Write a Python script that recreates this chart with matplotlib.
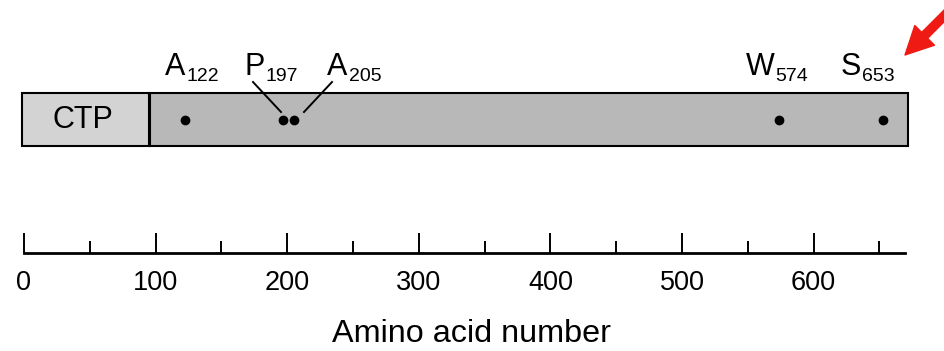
import matplotlib
matplotlib.use('Agg')
import matplotlib.pyplot as plt
import numpy as np

plt.rcParams['font.family'] = ['Liberation Sans', 'DejaVu Sans']

# protein domains (amino acid numbers)
protein_length = 672
ctp_end = 96
site_names = ['A', 'P', 'A', 'W', 'S']
site_positions = [122, 197, 205, 574, 653]
major_ticks = [0, 100, 200, 300, 400, 500, 600]
minor_ticks = [50, 150, 250, 350, 450, 550, 650]

# layout: pixel -> data mapping (0 aa at 24 px, 1.316 px per aa)
PX0, SCALE = 24, 1.316
def px(x):
    return (x - PX0) / SCALE

fig = plt.figure(figsize=(9.44, 3.51), dpi=100)
ax = fig.add_axes([0, 0, 1, 1])
ax.set_xlim(px(0), px(944))
ax.set_ylim(351, 0)
ax.axis('off')

# bar: CTP segment + mature protein
ax.barh(119.5, ctp_end, left=px(22.5), height=52.5, color='#d3d3d3', edgecolor='black',
        linewidth=1.5)
ax.barh(119.5, protein_length - ctp_end, left=ctp_end, height=52.5, color='#b8b8b8',
        edgecolor='black', linewidth=1.5)
ax.text(px(83), 120, 'CTP', ha='center', va='center', fontsize=22)

# mutation sites
ax.plot(site_positions, [120] * len(site_positions), 'o', color='black', markersize=6)

# letter + subscript number, left edge offset (px) from the dot
label_dx = [-20, -39, 33, -34, -43]
for name, pos, dx in zip(site_names, site_positions, label_dx):
    t = ax.text(pos + dx / SCALE, 75, name, ha='left', va='baseline', fontsize=22)
    ax.annotate(str(pos), xy=(1, 0), xycoords=t, xytext=(1, 0.5), textcoords='offset points',
                ha='left', va='baseline', fontsize=14)

# leader lines for the crowded pair
ax.plot([px(253), px(281)], [82, 112], color='black', lw=1.4)
ax.plot([px(332), px(304)], [82, 112], color='black', lw=1.4)

# red arrow
ax.annotate('', xy=(px(905), 55), xytext=(px(952), 8), annotation_clip=False,
            arrowprops=dict(arrowstyle='simple,head_length=1.0,head_width=1.0,tail_width=0.3',
                            color='#f01a14', mutation_scale=20, shrinkA=0, shrinkB=0))

# scale axis
ax2 = fig.add_axes([0, (351 - 253) / 351, 1, 0.1])
ax2.set_xlim(px(0), px(944))
ax2.patch.set_visible(False)
for s in ['top', 'left', 'right']:
    ax2.spines[s].set_visible(False)
ax2.spines['bottom'].set_bounds(0, px(905))
ax2.spines['bottom'].set_linewidth(2)
ax2.set_yticks([])
ax2.set_xticks(major_ticks)
ax2.set_xticks(minor_ticks, minor=True)
ax2.tick_params(axis='x', which='major', direction='in', length=14.5, width=1.4,
                labelsize=19.5, pad=12)
ax2.tick_params(axis='x', which='minor', direction='in', length=8.5, width=1.4)
ax2.set_xlabel('Amino acid number', fontsize=23.3, labelpad=17)

fig.savefig('out.png', dpi=100)
